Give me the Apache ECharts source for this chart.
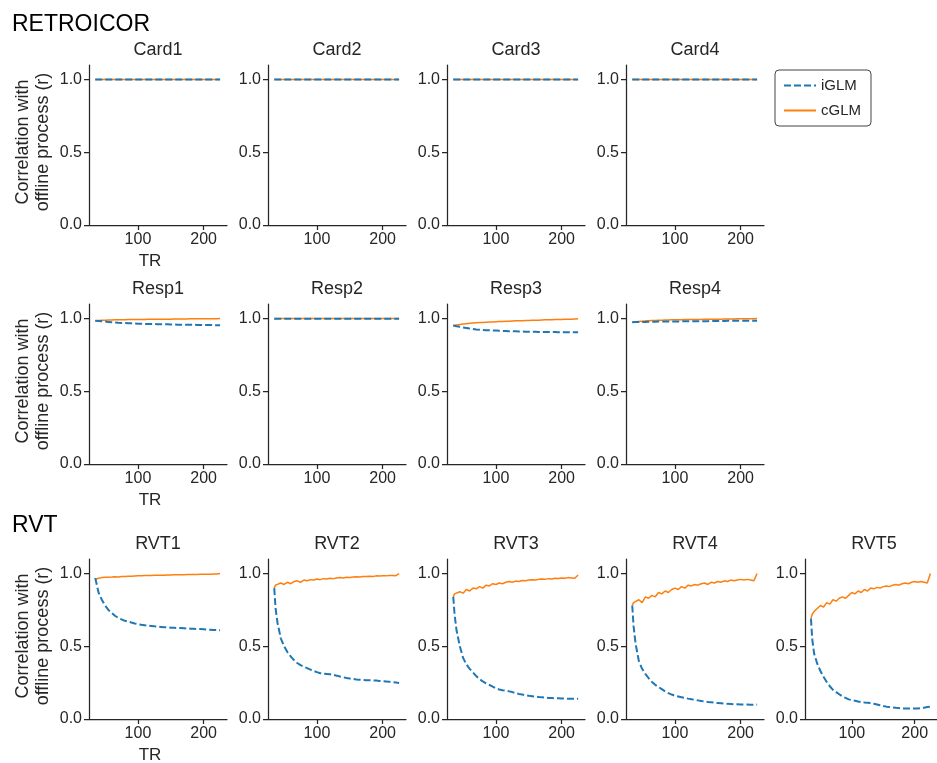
<!DOCTYPE html>
<html>
<head>
<meta charset="utf-8">
<script src="https://cdn.jsdelivr.net/npm/echarts@6/dist/echarts.min.js"></script>
<style>html,body{margin:0;padding:0;background:#fff;}#c{width:937px;height:763px;}</style>
</head>
<body>
<div id="c"></div>
<script>
// ---- data ----
const tr = [35,37,40,45,50,55,60,65,70,75,80,85,90,95,100,105,110,115,120,125,130,135,140,145,150,155,160,165,170,175,180,185,190,195,200,205,210,215,220,225];
const xTicks = [100, 200];
const yTicks = [0, 0.5, 1.0];
const panelNames = [
  ['Card1','Card2','Card3','Card4'],
  ['Resp1','Resp2','Resp3','Resp4'],
  ['RVT1','RVT2','RVT3','RVT4','RVT5']
];
const groupTitles = ['RETROICOR', 'RVT'];
const legendNames = ['iGLM', 'cGLM'];

const card1_i = [1.00,1.00,1.00,1.00,1.00,1.00,1.00,1.00,1.00,1.00,1.00,1.00,1.00,1.00,1.00,1.00,1.00,1.00,1.00,1.00,1.00,1.00,1.00,1.00,1.00,1.00,1.00,1.00,1.00,1.00,1.00,1.00,1.00,1.00,1.00,1.00,1.00,1.00,1.00,1.00];
const card1_c = [1.00,1.00,1.00,1.00,1.00,1.00,1.00,1.00,1.00,1.00,1.00,1.00,1.00,1.00,1.00,1.00,1.00,1.00,1.00,1.00,1.00,1.00,1.00,1.00,1.00,1.00,1.00,1.00,1.00,1.00,1.00,1.00,1.00,1.00,1.00,1.00,1.00,1.00,1.00,1.00];
const card2_i = card1_i, card2_c = card1_c, card3_i = card1_i, card3_c = card1_c, card4_i = card1_i, card4_c = card1_c;

const resp1_i = [0.985,0.984,0.983,0.981,0.979,0.977,0.975,0.973,0.971,0.970,0.969,0.968,0.967,0.966,0.965,0.964,0.963,0.963,0.962,0.962,0.961,0.961,0.960,0.960,0.959,0.959,0.958,0.958,0.958,0.957,0.957,0.957,0.956,0.956,0.956,0.955,0.955,0.955,0.954,0.954];
const resp1_c = [0.985,0.986,0.987,0.988,0.989,0.990,0.990,0.991,0.991,0.992,0.992,0.993,0.993,0.993,0.994,0.994,0.994,0.995,0.995,0.995,0.995,0.996,0.996,0.996,0.996,0.997,0.997,0.997,0.997,0.997,0.998,0.998,0.998,0.998,0.998,0.999,0.999,0.999,0.999,1.000];
const resp2_i = [0.999,0.999,0.999,0.999,0.999,0.999,0.999,0.999,0.999,0.999,0.999,0.999,0.999,0.999,0.999,0.999,0.999,0.999,0.999,0.999,0.999,0.999,0.999,0.999,0.999,0.999,0.999,0.999,0.999,0.999,0.999,0.999,0.999,0.999,0.999,0.999,0.999,0.999,0.999,0.999];
const resp2_c = [1.000,1.000,1.000,1.000,1.000,1.000,1.000,1.000,1.000,1.000,1.000,1.000,1.000,1.000,1.000,1.000,1.000,1.000,1.000,1.000,1.000,1.000,1.000,1.000,1.000,1.000,1.000,1.000,1.000,1.000,1.000,1.000,1.000,1.000,1.000,1.000,1.000,1.000,1.000,1.000];
const resp3_i = [0.952,0.950,0.947,0.943,0.939,0.935,0.931,0.928,0.925,0.923,0.921,0.920,0.919,0.918,0.917,0.916,0.915,0.914,0.913,0.913,0.912,0.911,0.911,0.910,0.910,0.909,0.909,0.908,0.908,0.908,0.907,0.907,0.907,0.906,0.906,0.906,0.906,0.905,0.905,0.905];
const resp3_c = [0.952,0.954,0.956,0.959,0.962,0.965,0.967,0.969,0.971,0.972,0.973,0.975,0.976,0.977,0.978,0.979,0.980,0.981,0.982,0.983,0.984,0.985,0.985,0.986,0.987,0.988,0.988,0.989,0.990,0.991,0.991,0.992,0.993,0.993,0.994,0.995,0.996,0.996,0.997,0.998];
const resp4_i = [0.975,0.975,0.976,0.976,0.977,0.977,0.978,0.978,0.978,0.979,0.979,0.979,0.980,0.980,0.980,0.980,0.981,0.981,0.981,0.981,0.982,0.982,0.982,0.982,0.982,0.983,0.983,0.983,0.983,0.983,0.984,0.984,0.984,0.984,0.984,0.984,0.985,0.985,0.985,0.985];
const resp4_c = [0.975,0.976,0.978,0.980,0.982,0.984,0.985,0.986,0.987,0.988,0.989,0.990,0.990,0.991,0.991,0.992,0.992,0.993,0.993,0.993,0.994,0.994,0.994,0.995,0.995,0.995,0.996,0.996,0.996,0.997,0.997,0.997,0.997,0.998,0.998,0.998,0.999,0.999,0.999,1.000];

const rvt1_i = [0.97,0.93,0.87,0.82,0.78,0.75,0.73,0.71,0.695,0.685,0.675,0.67,0.663,0.657,0.652,0.648,0.645,0.642,0.64,0.637,0.635,0.633,0.631,0.63,0.628,0.627,0.626,0.625,0.624,0.622,0.621,0.62,0.619,0.618,0.617,0.615,0.614,0.612,0.611,0.61];
const rvt1_c = [0.96,0.965,0.968,0.972,0.974,0.975,0.976,0.978,0.977,0.979,0.980,0.981,0.982,0.983,0.984,0.985,0.986,0.986,0.987,0.988,0.988,0.989,0.989,0.990,0.990,0.991,0.991,0.992,0.992,0.993,0.993,0.994,0.994,0.995,0.995,0.996,0.996,0.997,0.997,1.000];
const rvt2_i = [0.90,0.76,0.66,0.555,0.50,0.46,0.43,0.405,0.385,0.37,0.36,0.35,0.34,0.33,0.322,0.315,0.312,0.31,0.307,0.303,0.298,0.292,0.287,0.282,0.278,0.275,0.272,0.27,0.268,0.267,0.266,0.265,0.264,0.262,0.26,0.258,0.256,0.254,0.251,0.248];
const rvt2_c = [0.90,0.92,0.91,0.935,0.925,0.94,0.93,0.945,0.95,0.94,0.955,0.95,0.958,0.955,0.962,0.958,0.965,0.962,0.968,0.965,0.970,0.972,0.970,0.975,0.973,0.977,0.978,0.976,0.980,0.979,0.982,0.980,0.984,0.983,0.985,0.984,0.987,0.986,0.985,1.000];
const rvt3_i = [0.84,0.72,0.61,0.50,0.42,0.375,0.345,0.32,0.295,0.275,0.258,0.245,0.235,0.222,0.21,0.203,0.198,0.194,0.19,0.185,0.178,0.172,0.168,0.164,0.16,0.157,0.154,0.151,0.149,0.147,0.145,0.144,0.143,0.142,0.141,0.140,0.140,0.139,0.139,0.140];
const rvt3_c = [0.84,0.86,0.85,0.875,0.865,0.89,0.88,0.90,0.895,0.91,0.90,0.92,0.915,0.93,0.925,0.935,0.93,0.94,0.945,0.94,0.948,0.945,0.952,0.95,0.955,0.958,0.955,0.96,0.962,0.96,0.965,0.963,0.968,0.966,0.97,0.968,0.972,0.97,0.968,0.99];
const rvt4_i = [0.78,0.64,0.52,0.40,0.345,0.31,0.28,0.255,0.235,0.22,0.205,0.19,0.178,0.168,0.16,0.155,0.15,0.145,0.14,0.136,0.132,0.128,0.124,0.12,0.117,0.115,0.112,0.11,0.108,0.106,0.104,0.103,0.102,0.101,0.10,0.099,0.099,0.098,0.098,0.099];
const rvt4_c = [0.78,0.80,0.79,0.82,0.80,0.84,0.83,0.85,0.84,0.87,0.86,0.88,0.87,0.89,0.90,0.89,0.91,0.90,0.92,0.915,0.925,0.92,0.93,0.935,0.925,0.94,0.935,0.945,0.94,0.95,0.945,0.955,0.95,0.955,0.96,0.955,0.96,0.955,0.95,1.00];
const rvt5_i = [0.69,0.55,0.45,0.38,0.33,0.29,0.255,0.225,0.20,0.185,0.17,0.155,0.145,0.135,0.13,0.125,0.12,0.117,0.114,0.112,0.11,0.105,0.10,0.095,0.09,0.085,0.082,0.08,0.077,0.075,0.073,0.072,0.072,0.072,0.072,0.073,0.075,0.078,0.082,0.085];
const rvt5_c = [0.69,0.72,0.74,0.76,0.78,0.77,0.80,0.79,0.82,0.81,0.83,0.84,0.83,0.85,0.87,0.86,0.88,0.87,0.89,0.88,0.90,0.895,0.905,0.90,0.91,0.915,0.91,0.92,0.925,0.92,0.93,0.935,0.93,0.94,0.945,0.94,0.945,0.94,0.935,1.00];

const panelData = [
  [[card1_i,card1_c],[card2_i,card2_c],[card3_i,card3_c],[card4_i,card4_c]],
  [[resp1_i,resp1_c],[resp2_i,resp2_c],[resp3_i,resp3_c],[resp4_i,resp4_c]],
  [[rvt1_i,rvt1_c],[rvt2_i,rvt2_c],[rvt3_i,rvt3_c],[rvt4_i,rvt4_c],[rvt5_i,rvt5_c]]
];

// ---- layout ----
const FONT = '"Liberation Sans", Arial, sans-serif';
const INK = '#262626';
const colLeft = [89, 268, 447, 626, 805];
const panelW = 138;
const rowTop = [65, 304, 559];
const panelH = 160;
const BLUE = '#1f77b4', ORANGE = '#ff7f0e';

const grids = [], xAxes = [], yAxes = [], series = [], graphics = [];
let gi = 0;
panelNames.forEach((row, r) => {
  row.forEach((name, c) => {
    grids.push({left: colLeft[c], top: rowTop[r], width: panelW, height: panelH, containLabel: false});
    xAxes.push({
      gridIndex: gi, type: 'value', min: 25.5, max: 235.5,
      axisLine: {show: true, lineStyle: {color: INK, width: 1.25}},
      axisTick: {show: true, length: 5, lineStyle: {color: INK, width: 1.25}, customValues: xTicks},
      axisLabel: {color: INK, fontSize: 16, fontFamily: FONT, margin: 7, customValues: xTicks},
      splitLine: {show: false}
    });
    yAxes.push({
      gridIndex: gi, type: 'value', min: 0, max: 1.1,
      axisLine: {show: true, lineStyle: {color: INK, width: 1.25}},
      axisTick: {show: true, length: 5, lineStyle: {color: INK, width: 1.25}, customValues: yTicks},
      axisLabel: {color: INK, fontSize: 16, fontFamily: FONT, margin: 7, customValues: yTicks,
        formatter: v => v.toFixed(1)},
      splitLine: {show: false}
    });
    const [iv, cv] = panelData[r][c];
    series.push({
      name: legendNames[1], type: 'line', xAxisIndex: gi, yAxisIndex: gi, symbol: 'none',
      data: tr.map((t, k) => [t, cv[k]]),
      lineStyle: {color: ORANGE, width: 1.5}, itemStyle: {color: ORANGE}, z: 2
    });
    series.push({
      name: legendNames[0], type: 'line', xAxisIndex: gi, yAxisIndex: gi, symbol: 'none',
      data: tr.map((t, k) => [t, iv[k]]),
      lineStyle: {color: BLUE, width: 2, type: [7, 3]}, itemStyle: {color: BLUE}, z: 3
    });
    graphics.push({type: 'text', x: colLeft[c] + panelW / 2, y: rowTop[r] - 15,
      style: {text: name, fontSize: 18, fontFamily: FONT, fill: INK, textAlign: 'center', textVerticalAlign: 'middle'}});
    gi++;
  });
  graphics.push({type: 'text', x: 33, y: rowTop[r] + panelH / 2 - 3, rotation: Math.PI / 2,
    style: {text: 'Correlation with\noffline process (r)', fontSize: 18, lineHeight: 20, fontFamily: FONT, fill: INK,
      textAlign: 'center', textVerticalAlign: 'middle'}});
  graphics.push({type: 'text', x: 150, y: rowTop[r] + panelH + 36,
    style: {text: 'TR', fontSize: 17, fontFamily: FONT, fill: INK, textAlign: 'center', textVerticalAlign: 'middle'}});
});
graphics.push({type: 'text', x: 12, y: 25, style: {text: groupTitles[0], fontSize: 23, fontFamily: FONT, fill: '#000', textAlign: 'left', textVerticalAlign: 'middle'}});
graphics.push({type: 'text', x: 12, y: 526, style: {text: groupTitles[1], fontSize: 23, fontFamily: FONT, fill: '#000', textAlign: 'left', textVerticalAlign: 'middle'}});

const chart = echarts.init(document.getElementById('c'), null, {renderer: 'canvas'});
chart.setOption({
  animation: false,
  backgroundColor: '#fff',
  grid: grids, xAxis: xAxes, yAxis: yAxes, series: series,
  legend: {
    show: true,
    data: legendNames,
    orient: 'vertical', left: 775, top: 70, itemWidth: 32, itemHeight: 12, itemGap: 10,
    padding: [8, 10, 8, 8], borderColor: '#444', borderWidth: 1, borderRadius: 4, backgroundColor: '#fff',
    itemStyle: {opacity: 0, borderWidth: 0},
    textStyle: {color: INK, fontSize: 15, fontFamily: FONT}, selectedMode: false
  },
  graphic: graphics
});
</script>
</body>
</html>
